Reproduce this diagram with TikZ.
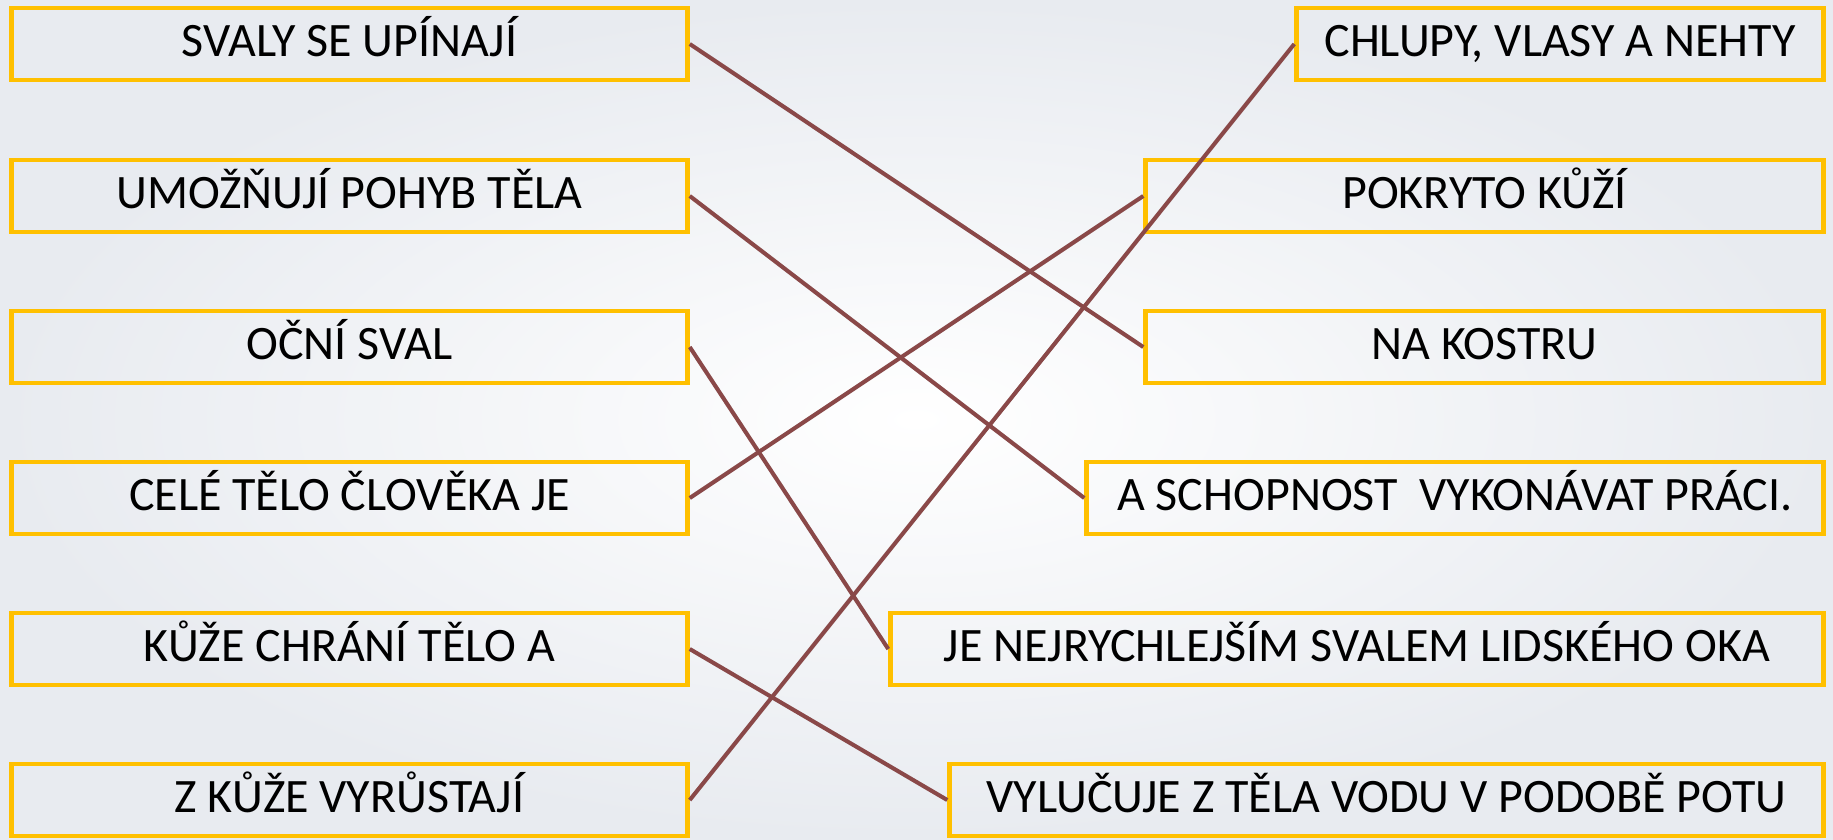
\documentclass[tikz,border=0pt]{standalone}
\usepackage{fontspec}
\setmainfont{Carlito}
\definecolor{gold}{HTML}{FFC000}
\definecolor{wire}{HTML}{8A4848}
\definecolor{bgedge}{HTML}{E8EBF0}
\begin{document}
\begin{tikzpicture}[x=1pt,y=-1pt,
  card/.style={draw=gold, line width=4.5pt, minimum height=72pt, inner sep=0pt,
    text height=31pt, text depth=6pt, font=\fontsize{48}{52}\selectfont, text=black},
  link/.style={draw=wire, line width=4pt},
  linkshadow/.style={draw=black!40, line width=4pt, opacity=0.35}]
\useasboundingbox (0,0) rectangle (1833,839);
\shade[inner color=white, outer color=bgedge] (0,0) rectangle (1833,839);
% left column
\node[card, minimum width=676pt] (l1) at (349.5,44) {SVALY SE UPÍNAJÍ};
\node[card, minimum width=676pt] (l2) at (349.5,196) {UMOŽŇUJÍ POHYB TĚLA};
\node[card, minimum width=676pt] (l3) at (349.5,347) {OČNÍ SVAL};
\node[card, minimum width=676pt] (l4) at (349.5,498) {CELÉ TĚLO ČLOVĚKA JE};
\node[card, minimum width=676pt] (l5) at (349.5,649) {KŮŽE CHRÁNÍ TĚLO A};
\node[card, minimum width=676pt] (l6) at (349.5,800) {Z KŮŽE VYRŮSTAJÍ};
% right column
\node[card, minimum width=527pt] (r1) at (1560,44) {CHLUPY, VLASY A NEHTY};
\node[card, minimum width=678pt] (r2) at (1484.5,196) {POKRYTO KŮŽÍ};
\node[card, minimum width=678pt] (r3) at (1484.5,347) {NA KOSTRU};
\node[card, minimum width=737pt] (r4) at (1455,498) {A SCHOPNOST\ \ VYKONÁVAT PRÁCI.};
\node[card, minimum width=933pt] (r5) at (1357,649) {JE NEJRYCHLEJŠÍM SVALEM LIDSKÉHO OKA};
\node[card, minimum width=874pt] (r6) at (1386.5,800) {VYLUČUJE Z TĚLA VODU V PODOBĚ POTU};
% shadows
\begin{scope}[shift={(2,2)}]
\draw[linkshadow] (l1.east) -- (r3.west);
\draw[linkshadow] (l2.east) -- (r4.west);
\draw[linkshadow] (l3.east) -- (r5.west);
\draw[linkshadow] (l4.east) -- (r2.west);
\draw[linkshadow] (l5.east) -- (r6.west);
\draw[linkshadow] (l6.east) -- (r1.west);
\end{scope}
% connectors
\draw[link] (l1.east) -- (r3.west);
\draw[link] (l2.east) -- (r4.west);
\draw[link] (l3.east) -- (r5.west);
\draw[link] (l4.east) -- (r2.west);
\draw[link] (l5.east) -- (r6.west);
\draw[link] (l6.east) -- (r1.west);
\end{tikzpicture}
\end{document}
